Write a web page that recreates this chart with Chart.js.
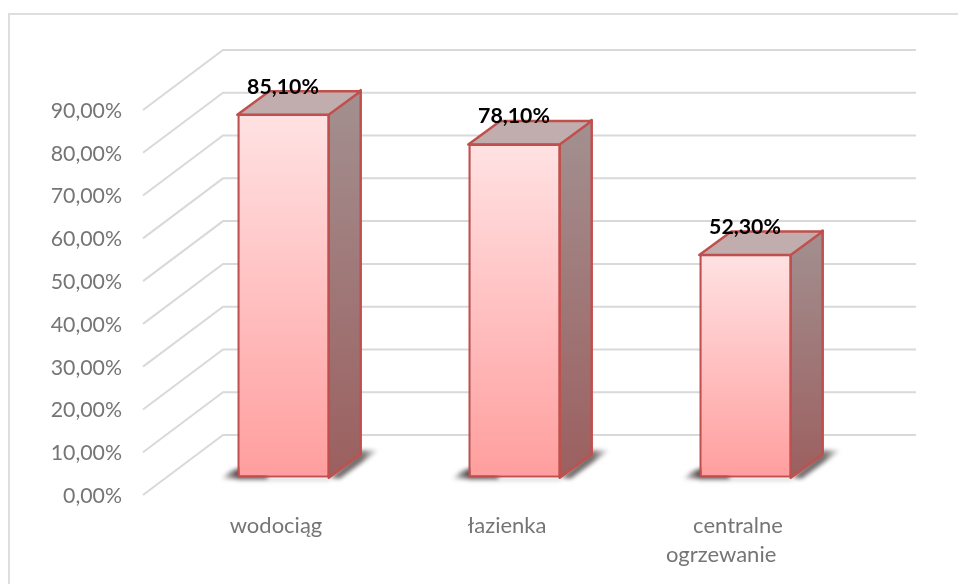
<!DOCTYPE html>
<html><head><meta charset="utf-8">
<style>html,body{margin:0;padding:0;background:#fff;overflow:hidden}canvas{display:block}#w{position:relative;width:958px;height:584px;overflow:hidden}#f{position:absolute;left:8px;top:13px;width:1000px;height:620px;border:2px solid #DEDEDE;box-sizing:border-box}#c{position:absolute;left:0;top:0}</style>
<script src="https://cdn.jsdelivr.net/npm/chart.js@4/dist/chart.umd.min.js"></script>
</head><body><div id="w"><div id="f"></div><canvas id="c" width="958" height="584"></canvas></div>
<script>
const categories = ['wodociąg', 'łazienka', ['centralne', 'ogrzewanie\u00a0\u00a0\u00a0\u00a0\u00a0\u00a0']];
const values = [85.1, 78.1, 52.3];
const labels = ['85,10%', '78,10%', '52,30%'];
const BACK = {x: 80, y: -60};
const BAR = {x: 25, y: -17.3};
const DEPTH = {x: 32, y: -23.5};
const FONT = 'Lato, "Open Sans", sans-serif';

const depthPlugin = {
  id: 'depth',
  beforeDatasetsDraw(chart) {
    const ctx = chart.ctx, y = chart.scales.y, a = chart.chartArea;
    ctx.save();
    ctx.strokeStyle = '#D9D9D9'; ctx.lineWidth = 2;
    y.ticks.forEach(t => {
      const py = y.getPixelForValue(t.value);
      ctx.beginPath();
      ctx.moveTo(a.left, py);
      ctx.lineTo(a.left + BACK.x, py + BACK.y);
      ctx.lineTo(a.right + BACK.x, py + BACK.y);
      ctx.stroke();
    });
    ctx.restore();
    const meta = chart.getDatasetMeta(0);
    meta.data.forEach(b => {
      const hw = b.width / 2;
      const l = b.x - hw + BAR.x, r = b.x + hw + BAR.x, t = b.y + BAR.y, bt = b.base + BAR.y;
      ctx.save();
      ctx.filter = 'blur(2px)';
      let g = ctx.createLinearGradient(l - 16, 0, l, 0);
      g.addColorStop(0, 'rgba(70,60,60,0.1)');
      g.addColorStop(1, 'rgba(70,60,60,0.9)');
      ctx.fillStyle = g;
      ctx.beginPath();
      ctx.moveTo(l - 16, bt + 1);
      ctx.lineTo(l - 8, bt - 6);
      ctx.lineTo(l, bt - 9);
      ctx.lineTo(l + 30, bt - 9);
      ctx.lineTo(l + 30, bt + 1);
      ctx.closePath();
      ctx.fill();
      ctx.fillStyle = 'rgba(120,110,110,0.3)';
      ctx.fillRect(l, bt, r - l, 3);
      g = ctx.createLinearGradient(r + DEPTH.x, 0, r + DEPTH.x + 17, 0);
      g.addColorStop(0, 'rgba(70,60,60,0.75)');
      g.addColorStop(1, 'rgba(70,60,60,0.03)');
      ctx.fillStyle = g;
      ctx.beginPath();
      ctx.moveTo(r, bt);
      ctx.lineTo(r + DEPTH.x, bt + DEPTH.y - 4);
      ctx.lineTo(r + DEPTH.x + 17, bt + DEPTH.y - 4);
      ctx.lineTo(r + 10, bt + 1);
      ctx.closePath();
      ctx.fill();
      ctx.restore();
      ctx.save();
      const sg = ctx.createLinearGradient(0, t + DEPTH.y, 0, bt);
      sg.addColorStop(0, '#A39090'); sg.addColorStop(1, '#9C5F5F');
      ctx.fillStyle = sg;
      ctx.strokeStyle = '#C0504D'; ctx.lineWidth = 2.5; ctx.lineJoin = 'round';
      ctx.beginPath();
      ctx.moveTo(r - 1, t);
      ctx.lineTo(r - 1 + DEPTH.x, t + DEPTH.y);
      ctx.lineTo(r - 1 + DEPTH.x, bt + DEPTH.y);
      ctx.lineTo(r - 1, bt);
      ctx.closePath();
      ctx.fill(); ctx.stroke();
      ctx.fillStyle = '#C1ADAD';
      ctx.beginPath();
      ctx.moveTo(l, t + 1);
      ctx.lineTo(l + DEPTH.x, t + 1 + DEPTH.y);
      ctx.lineTo(r - 1 + DEPTH.x, t + 1 + DEPTH.y);
      ctx.lineTo(r - 1, t + 1);
      ctx.closePath();
      ctx.fill(); ctx.stroke();
      ctx.restore();
    });
    ctx.save();
    ctx.translate(BAR.x, BAR.y);
  },
  afterDatasetsDraw(chart) {
    const ctx = chart.ctx;
    ctx.restore();
    ctx.save();
    ctx.fillStyle = '#000';
    ctx.font = 'bold 21.3px ' + FONT;
    ctx.textAlign = 'center';
    ctx.textBaseline = 'middle';
    chart.getDatasetMeta(0).data.forEach((b, i) => {
      ctx.fillText(labels[i], b.x + BAR.x - 0.5, b.y + BAR.y - 27);
    });
    ctx.restore();
  }
};

new Chart(document.getElementById('c'), {
  type: 'bar',
  data: {
    labels: categories,
    datasets: [{
      data: values,
      barPercentage: 0.4,
      categoryPercentage: 1,
      borderColor: '#C0504D',
      borderWidth: 2.5,
      borderSkipped: false,
      backgroundColor(c) {
        const ch = c.chart, y = ch.scales.y;
        if (!y || typeof c.raw !== 'number') return '#FFC0C0';
        const y0 = y.getPixelForValue(c.raw), y1 = y.getPixelForValue(0);
        if (!Number.isFinite(y0) || !Number.isFinite(y1)) return '#FFC0C0';
        const g = ch.ctx.createLinearGradient(0, y0, 0, y1);
        g.addColorStop(0, '#FFE2E3');
        g.addColorStop(1, '#FF9E9E');
        return g;
      }
    }]
  },
  options: {
    responsive: false,
    animation: false,
    layout: {padding: {top: 110, right: 122, left: 0, bottom: 0}},
    plugins: {legend: {display: false}, tooltip: {enabled: false}},
    scales: {
      x: {
        grid: {display: false, drawTicks: false}, border: {display: false},
        afterFit(s) { s.height = 89; },
        ticks: {
          color: '#757575', font: {family: FONT, size: 22, lineHeight: 1.33}, padding: 16,
          labelOffset: 17.5, maxRotation: 0, minRotation: 0, autoSkip: false
        }
      },
      y: {
        min: 0, max: 90,
        grid: {display: false, drawTicks: false}, border: {display: false},
        afterFit(s) { s.width = 143; },
        ticks: {
          stepSize: 10, color: '#757575', font: {family: FONT, size: 21.3}, padding: 21, labelOffset: 1,
          callback: v => v.toFixed(2).replace('.', ',') + '%'
        }
      }
    }
  },
  plugins: [depthPlugin]
});
</script></body></html>
